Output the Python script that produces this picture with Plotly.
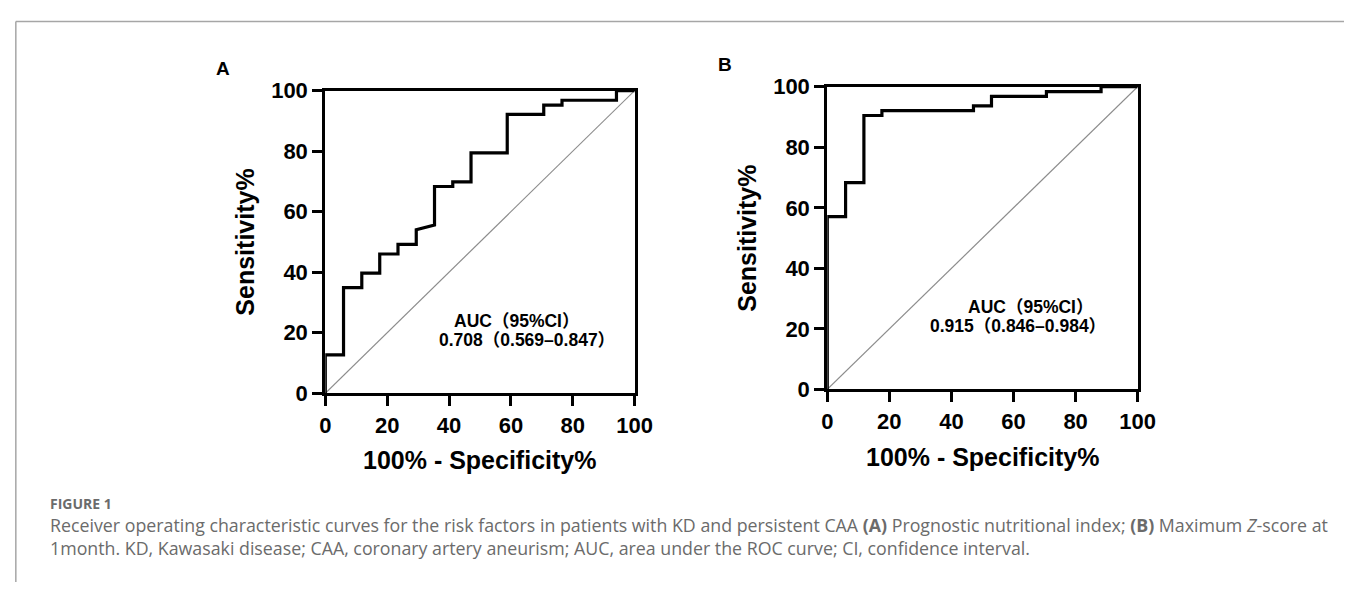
import plotly.graph_objects as go

W, H = 1362, 595

# Panel A: Prognostic nutritional index ROC (100% - Specificity%, Sensitivity%)
fpr_a = [0, 0, 5.9, 5.9, 11.8, 11.8, 17.6, 17.6, 23.5, 23.5, 29.4, 29.4, 35.3, 35.3,
         41.2, 41.2, 47.1, 47.1, 58.8, 58.8, 70.6, 70.6, 76.5, 76.5, 94.1, 94.1, 100]
tpr_a = [0, 12.7, 12.7, 34.9, 34.9, 39.7, 39.7, 46.0, 46.0, 49.2, 49.2, 54.0, 55.6, 68.3,
         68.3, 69.8, 69.8, 79.4, 79.4, 92.1, 92.1, 95.2, 95.2, 96.8, 96.8, 100, 100]

# Panel B: Maximum Z-score at 1 month ROC
fpr_b = [0, 0, 5.9, 5.9, 11.8, 11.8, 17.6, 17.6, 47.1, 47.1, 52.9, 52.9, 70.6, 70.6,
         88.2, 88.2, 100]
tpr_b = [0, 57.1, 57.1, 68.3, 68.3, 90.5, 90.5, 92.1, 92.1, 93.7, 93.7, 96.8, 96.8, 98.4,
         98.4, 100, 100]

ref_line = [0, 100]
tick_vals = [0, 20, 40, 60, 80, 100]
tick_text = ["0", "20", "40", "60", "80", "100"]

auc_a = ["AUC（95%CI）", "0.708（0.569–0.847）"]
auc_b = ["AUC（95%CI）", "0.915（0.846–0.984）"]

caption_head = "FIGURE 1"
caption_l1 = ("Receiver operating characteristic curves for the risk factors in patients with KD and "
              "persistent CAA <b>(A)</b> Prognostic nutritional index; <b>(B)</b> Maximum <i>Z</i>-score at")
caption_l2 = ("1month. KD, Kawasaki disease; CAA, coronary artery aneurism; AUC, area under the ROC "
              "curve; CI, confidence interval.")

FONT = "Liberation Sans, Arial, Noto Sans CJK SC, sans-serif"


def px(x):
    return x / W


def py(y):
    return 1 - y / H


# panel boxes in pixels: (left, right, top, bottom)
boxes = {
    "A": (325, 640, 82, 398),
    "B": (836, 1152, 78, 394),
}

fig = go.Figure()

# diagonals
for xa, ya in [("x", "y"), ("x2", "y2")]:
    fig.add_trace(go.Scatter(x=ref_line, y=ref_line, mode="lines",
                             line=dict(color="#8c8c8c", width=1.2), xaxis=xa, yaxis=ya,
                             hoverinfo="skip", showlegend=False))
# ROC curves
fig.add_trace(go.Scatter(x=fpr_a, y=tpr_a, mode="lines",
                         line=dict(color="black", width=3.2), xaxis="x", yaxis="y",
                         showlegend=False, cliponaxis=False))
fig.add_trace(go.Scatter(x=fpr_b, y=tpr_b, mode="lines",
                         line=dict(color="black", width=3.2), xaxis="x2", yaxis="y2",
                         showlegend=False, cliponaxis=False))

axis_common = dict(
    range=[0, 100], tickvals=tick_vals, ticktext=tick_text,
    showline=True, linecolor="black", linewidth=3, mirror=True,
    ticks="outside", ticklen=10, tickwidth=3, tickcolor="black",
    showgrid=False, zeroline=False, fixedrange=True,
    tickfont=dict(family=FONT, size=22, color="black", weight="bold"),
)

la, ra, ta, ba = boxes["A"]
lb, rb, tb, bb = boxes["B"]

fig.update_layout(
    width=W, height=H,
    margin=dict(l=0, r=0, t=0, b=0),
    paper_bgcolor="white", plot_bgcolor="white",
    xaxis=dict(domain=[px(la), px(ra)], anchor="y", **axis_common),
    yaxis=dict(domain=[py(ba), py(ta)], anchor="x", **axis_common),
    xaxis2=dict(domain=[px(lb), px(rb)], anchor="y2", **axis_common),
    yaxis2=dict(domain=[py(bb), py(tb)], anchor="x2", **axis_common),
)

annotations = []


def add_text(text, x, y, size, color="black", weight="bold", angle=0, xanchor="center",
             family=FONT, align="center"):
    annotations.append(dict(
        text=text, x=px(x), y=py(y), xref="paper", yref="paper",
        xanchor=xanchor, yanchor="middle", showarrow=False, textangle=angle, align=align,
        font=dict(family=family, size=size, color=color, weight=weight),
    ))


for key, (l, r, t, b) in [("A", boxes["A"]), ("B", boxes["B"])]:
    cx = (l + r) / 2
    cy = (t + b) / 2
    add_text(key, l - 104, t - 23, 19)
    add_text("Sensitivity%", l - 82, cy, 25, angle=-90)
    add_text("100% - Specificity%", cx, b + 70, 25)

add_text(auc_a[0], 520, 323, 17.5)
add_text(auc_a[1], 530, 342, 17.5)
add_text(auc_b[0], 1043, 308, 17.5)
add_text(auc_b[1], 1030, 328, 17.5)

CAP_FONT = "Open Sans, Noto Sans, sans-serif"
add_text(caption_head, 43, 513, 14, color="#6b6b6b", weight="bold", xanchor="left", family=CAP_FONT)
add_text(caption_l1 + "<br>" + caption_l2, 43, 547, 17.8, color="#6b6b6b", weight="normal",
         xanchor="left", family=CAP_FONT, align="left")

fig.update_layout(annotations=annotations)

# page frame lines
fig.update_layout(shapes=[
    dict(type="line", xref="paper", yref="paper", x0=px(10), x1=1, y0=py(10), y1=py(10),
         line=dict(color="#a6a6a6", width=1.5)),
    dict(type="line", xref="paper", yref="paper", x0=px(10), x1=px(10), y0=py(10), y1=0,
         line=dict(color="#a6a6a6", width=1.5)),
])

fig.write_html("out.html", config={"displayModeBar": False},
               post_script="document.body.style.margin='0';document.body.style.overflow='hidden';")
